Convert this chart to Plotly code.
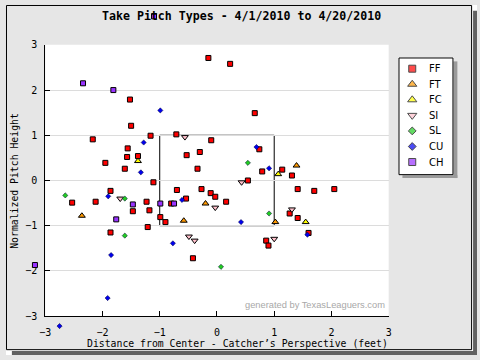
import plotly.graph_objects as go

W, H = 480, 360

# ---- data ----
pitch_types = ["FF", "FT", "FC", "SI", "SL", "CU", "CH"]

ff_x = [-0.15, 0.23, -1.52, -1.50, -2.17, -1.16, -0.71, -0.10, -1.56, -1.57, -1.38, -0.53, -0.30,
        -1.95, -1.61, -0.34, -1.11, 0.66, 0.74, 0.79, 1.14, 1.31, 0.54, -2.53, -1.86, -2.12, -1.47,
        -1.23, -1.18, -0.99, -0.90, -0.70, -0.80, -0.54, -0.27, -0.11, -0.03, -1.21, -1.86, -0.42,
        0.16, 1.41, 1.70, 2.05, 1.27, 1.41, 1.60, 0.86, 0.90]
ff_y = [2.71, 2.58, 1.79, 1.21, 0.91, 0.99, 1.02, 0.89, 0.71, 0.52, 0.54, 0.56, 0.63,
        0.39, 0.26, 0.26, -0.04, 1.49, 0.69, 0.20, 0.24, 0.11, 0.00, -0.49, -0.23, -0.47, -0.68,
        -0.47, -0.66, -0.81, -0.92, -0.21, -0.51, -0.40, -0.19, -0.28, -0.36, -1.03, -1.15, -1.72,
        -0.47, -0.19, -0.23, -0.19, -0.73, -0.83, -1.16, -1.33, -1.44]

ft_x = [1.39, -2.36, -0.20, -0.58, 1.02]
ft_y = [0.33, -0.78, -0.51, -0.89, -0.92]

fc_x = [-1.38, 1.07, 1.55]
fc_y = [0.43, 0.14, -0.92]

si_x = [-0.56, 0.43, -1.69, -0.03, -0.49, -0.39, 1.31, 1.00]
si_y = [0.96, -0.04, -0.40, -0.60, -1.24, -1.33, -0.64, -1.29]

sl_x = [0.54, -2.65, -1.61, -1.61, 0.07, 0.91]
sl_y = [0.39, -0.33, -0.40, -1.22, -1.91, -0.73]

cu_x = [-0.99, -1.28, -1.33, 0.69, 0.91, -1.90, -0.61, -0.77, -1.85, -1.91, -2.75, 0.42, 1.58]
cu_y = [1.55, 0.84, 0.18, 0.74, 0.27, -0.35, -0.43, -1.39, -1.65, -2.60, -3.22, -0.92, -1.20]

ch_x = [-2.34, -1.81, -1.47, -0.99, -1.76, -0.75, -3.18, -1.10]
ch_y = [2.15, 2.00, -0.53, -0.51, -0.86, -0.51, -1.87, 3.63]

axis_range = [-3, 3]
axis_ticks = [-3, -2, -1, 0, 1, 2, 3]
zone_x = [-1, 1]
zone_y = [-1, 1]

# ---- styles ----
colors = {"FF": "#ff0000", "FT": "#ff9900", "FC": "#ffff00", "SI": "#ffc0cb",
          "SL": "#22cc22", "CU": "#0000ee", "CH": "#9933ff"}
symbols = {"FF": "square", "FT": "triangle-up", "FC": "triangle-up", "SI": "triangle-down",
           "SL": "diamond", "CU": "diamond", "CH": "square"}
sizes = {"FF": 5, "FT": 6, "FC": 6, "SI": 6, "SL": 4, "CU": 4, "CH": 5}
lsizes = {"FF": 7, "FT": 8, "FC": 8, "SI": 8, "SL": 6, "CU": 6, "CH": 7}
series = {"FF": (ff_x, ff_y), "FT": (ft_x, ft_y), "FC": (fc_x, fc_y), "SI": (si_x, si_y),
          "SL": (sl_x, sl_y), "CU": (cu_x, cu_y), "CH": (ch_x, ch_y)}

# plot area in pixels
PL, PR, PT, PB = 40, 390, 41, 320


def fx(px):
    return px / W


def fy(py):
    return 1 - py / H


# full-figure axes with the same scale as the main axes (so pitches outside the
# main range, drawn in the margins as in the original, are still visible)
sx = (PR - PL) / (axis_range[1] - axis_range[0])
sy = (PB - PT) / (axis_range[1] - axis_range[0])
x_at_left = axis_range[0] - PL / sx
x_at_right = axis_range[1] + (W - PR) / sx
y_at_top = axis_range[1] + PT / sy
y_at_bottom = axis_range[0] - (H - PB) / sy

fig = go.Figure()
for t in pitch_types:
    xs, ys = series[t]
    diamond = symbols[t] == "diamond"
    fig.add_trace(go.Scatter(
        x=xs, y=ys, mode="markers", name=t, showlegend=False,
        marker=dict(symbol=symbols[t], size=sizes[t], color=colors[t],
                    line=dict(color="#000033" if diamond else "black", width=0.5 if diamond else 1)),
        xaxis="x3", yaxis="y3"))

# custom legend drawn on its own small axes
fig.add_trace(go.Scatter(
    x=[14] * len(pitch_types), y=list(range(len(pitch_types))), mode="markers", showlegend=False,
    marker=dict(symbol=[symbols[t] for t in pitch_types], size=[lsizes[t] for t in pitch_types],
                color=[colors[t] for t in pitch_types],
                line=dict(color="black", width=1)),
    xaxis="x2", yaxis="y2", hoverinfo="skip"))

annotations = []
for i, t in enumerate(pitch_types):
    annotations.append(dict(x=29, y=i, xref="x2", yref="y2", text=t, showarrow=False,
                            xanchor="left", yanchor="middle",
                            font=dict(family="DejaVu Sans", size=10, color="black")))

annotations += [
    dict(x=fx(240.5), y=fy(11), xref="paper", yref="paper", showarrow=False,
         text="<b>Take Pitch Types - 4/1/2010 to 4/20/2010</b>", xanchor="center", yanchor="middle",
         font=dict(family="DejaVu Sans Mono", size=11.6, color="black")),
    dict(x=fx(236), y=fy(348), xref="paper", yref="paper", showarrow=False,
         text="Distance from Center - Catcher\u2019s Perspective (feet)", xanchor="center", yanchor="middle",
         font=dict(family="DejaVu Sans Mono", size=9.8, color="black")),
    dict(x=fx(9), y=fy(181), xref="paper", yref="paper", showarrow=False, textangle=-90,
         text="Normalized Pitch Height", xanchor="center", yanchor="middle",
         font=dict(family="DejaVu Sans Mono", size=9.8, color="black")),
    dict(x=fx(388), y=fy(309), xref="paper", yref="paper", showarrow=False,
         text="generated by TexasLeaguers.com", xanchor="right", yanchor="middle",
         font=dict(family="Liberation Sans", size=9.3, color="#a8a8a8")),
]

shapes = [
    # white plot area and legend background
    dict(type="rect", xref="paper", yref="paper", x0=fx(PL), x1=fx(PR), y0=fy(PB), y1=fy(PT),
         fillcolor="white", line=dict(width=0), layer="below"),
    dict(type="rect", xref="paper", yref="paper", x0=fx(400), x1=fx(456), y0=fy(174), y1=fy(54),
         fillcolor="white", line=dict(width=0), layer="below"),
    # strike zone
    dict(type="rect", xref="x", yref="y", x0=zone_x[0], x1=zone_x[1], y0=zone_y[0], y1=zone_y[1],
         line=dict(color="black", width=1), layer="below"),
    # white gap around frame
    dict(type="rect", xref="paper", yref="paper", x0=fx(475), x1=1, y0=0, y1=1,
         fillcolor="white", line=dict(width=0), layer="above"),
    dict(type="rect", xref="paper", yref="paper", x0=0, x1=1, y0=0, y1=fy(355),
         fillcolor="white", line=dict(width=0), layer="above"),
    # drop shadow of frame
    dict(type="rect", xref="paper", yref="paper", x0=fx(476), x1=1, y0=0, y1=fy(6),
         fillcolor="#626262", line=dict(width=0), layer="above"),
    dict(type="rect", xref="paper", yref="paper", x0=fx(6), x1=1, y0=0, y1=fy(356),
         fillcolor="#626262", line=dict(width=0), layer="above"),
    # frame border
    dict(type="rect", xref="paper", yref="paper", x0=fx(0.5), x1=fx(474.5), y0=fy(354.5), y1=fy(0.5),
         line=dict(color="black", width=1), layer="above"),
    # legend shadow
    dict(type="rect", xref="paper", yref="paper", x0=fx(456), x1=fx(460), y0=fy(178), y1=fy(58),
         fillcolor="#9a9a9a", line=dict(width=0), layer="above"),
    dict(type="rect", xref="paper", yref="paper", x0=fx(404), x1=fx(460), y0=fy(178), y1=fy(175),
         fillcolor="#9a9a9a", line=dict(width=0), layer="above"),
    # legend border
    dict(type="rect", xref="paper", yref="paper", x0=fx(400.5), x1=fx(455.5), y0=fy(174.5), y1=fy(54.5),
         line=dict(color="black", width=1), layer="above"),
]

fig.update_layout(
    width=W, height=H, margin=dict(l=0, r=0, t=0, b=0),
    paper_bgcolor="#e6e6e6", plot_bgcolor="rgba(0,0,0,0)",
    showlegend=False,
    xaxis=dict(domain=[fx(PL), fx(PR)], range=axis_range, tickvals=axis_ticks,
               ticks="inside", ticklen=5, tickcolor="black", tickwidth=1,
               showline=True, linecolor="black", linewidth=1, showgrid=False, zeroline=False,
               tickfont=dict(family="DejaVu Sans Mono", size=10, color="black"),
               ticklabelstandoff=7, anchor="y", fixedrange=True),
    yaxis=dict(domain=[fy(PB), fy(PT)], range=axis_range, tickvals=axis_ticks,
               ticks="inside", ticklen=5, tickcolor="black", tickwidth=1,
               showline=True, linecolor="black", linewidth=1, showgrid=True,
               gridcolor="#dcdcdc", gridwidth=1, zeroline=False,
               tickfont=dict(family="DejaVu Sans Mono", size=10, color="black"),
               ticklabelstandoff=5, anchor="x", fixedrange=True),
    xaxis2=dict(domain=[fx(400), fx(456)], range=[0, 56], visible=False, anchor="y2"),
    yaxis2=dict(domain=[fy(174), fy(54)], range=[6.78, -0.72], visible=False, anchor="x2"),
    xaxis3=dict(domain=[0, 1], range=[x_at_left, x_at_right], visible=False, anchor="y3",
                fixedrange=True),
    yaxis3=dict(domain=[0, 1], range=[y_at_bottom, y_at_top], visible=False, anchor="x3",
                fixedrange=True),
    annotations=annotations,
    shapes=shapes,
)

fig.write_html("out.html", config={"displayModeBar": False},
               post_script="document.body.style.margin='0px';document.body.style.overflow='hidden';")
